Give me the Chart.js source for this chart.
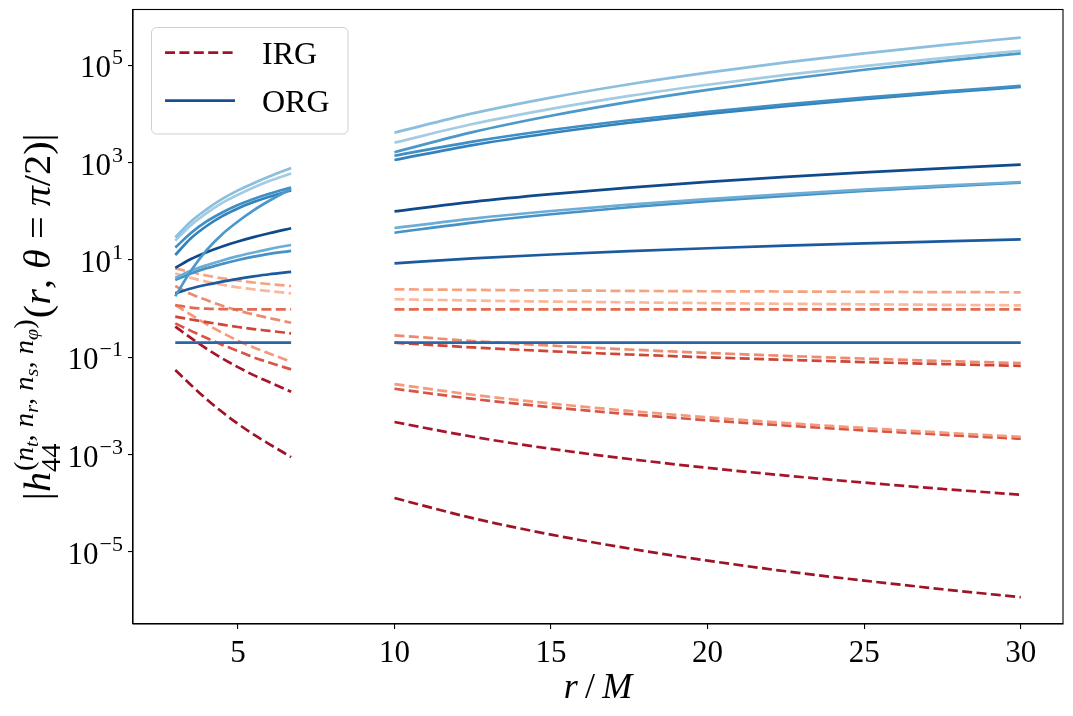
<!DOCTYPE html>
<html>
<head>
<meta charset="utf-8">
<script src="https://cdn.jsdelivr.net/npm/chart.js@4.4.0/dist/chart.umd.min.js"></script>
<style>
  html, body { margin: 0; padding: 0; background: #fff; }
  #wrap { width: 1073px; height: 716px; }
</style>
</head>
<body>
<div id="wrap"><canvas id="chart" width="1073" height="716"></canvas></div>
<script>
// radii of the two sampled regions
const rInner = [3, 3.5, 4, 4.5, 5, 5.5, 6, 6.7];
const rOuter = [10, 12.5, 15, 17.5, 20, 22.5, 25, 27.5, 30];

const xTicks = [5, 10, 15, 20, 25, 30];
const yTicks = [1e-5, 1e-3, 1e-1, 1e1, 1e3, 1e5];
const yTickExp = ['\u22125', '\u22123', '\u22121', '1', '3', '5'];

// ORG (solid) curves, one row per mode
const orgInner = [
  [29, 62, 110, 180, 270, 380, 520, 780],
  [25, 52, 92, 150, 220, 310, 420, 600],
  [1.8, 6, 16, 34, 62, 105, 165, 290],
  [18, 36, 62, 95, 135, 180, 230, 310],
  [12.7, 28, 50, 80, 115, 155, 200, 270],
  [6.9, 10.5, 14.5, 19, 24, 29.5, 35.5, 45],
  [4.3, 6, 7.8, 9.8, 12, 14.3, 16.8, 20.4],
  [3.9, 5.3, 6.8, 8.3, 10, 11.7, 13.4, 15.4],
  [2.07, 2.6, 3.1, 3.6, 4.1, 4.6, 5.1, 5.7],
  [0.2, 0.2, 0.2, 0.2, 0.2, 0.2, 0.2, 0.2]
];
const orgOuter = [
  [4140, 10330, 21800, 41000, 70900, 115000, 177000, 262000, 374000],
  [2580, 6240, 12800, 23700, 40100, 64000, 97000, 141600, 200000],
  [1640, 4250, 9220, 17800, 31400, 51900, 81500, 122000, 177000],
  [1393, 2720, 4700, 7465, 11140, 15870, 21760, 28960, 37800],
  [1137, 2300, 4080, 6630, 10100, 14560, 20300, 27500, 36000],
  [100, 157, 226, 308, 403, 510, 632, 764, 910],
  [45.5, 70.8, 101.6, 138, 179, 226.5, 279, 337, 401],
  [36.4, 58.9, 87.2, 121.5, 162, 209, 262, 322, 388],
  [8.55, 10.76, 12.98, 15.2, 17.45, 19.7, 21.95, 24.2, 26.6],
  [0.2, 0.2, 0.2, 0.2, 0.2, 0.2, 0.2, 0.2, 0.2]
];

// IRG (dashed) curves
const irgInner = [
  [6.75, 5.6, 4.8, 4.2, 3.8, 3.45, 3.2, 2.92],
  [5.3, 4.3, 3.6, 3.1, 2.75, 2.5, 2.3, 2.07],
  [1.19, 1.05, 1.0, 0.98, 0.97, 0.97, 0.97, 0.97],
  [2.92, 2.0, 1.5, 1.15, 0.92, 0.76, 0.64, 0.514],
  [0.684, 0.6, 0.53, 0.47, 0.42, 0.38, 0.35, 0.311],
  [1.19, 0.75, 0.48, 0.32, 0.22, 0.16, 0.12, 0.0813],
  [0.499, 0.35, 0.25, 0.18, 0.135, 0.1, 0.078, 0.0566],
  [0.427, 0.25, 0.15, 0.095, 0.063, 0.043, 0.031, 0.0196],
  [0.0548, 0.027, 0.0138, 0.0075, 0.0043, 0.0026, 0.00165, 0.00089]
];
const irgOuter = [
  [2.5, 2.43, 2.37, 2.32, 2.28, 2.25, 2.22, 2.19, 2.17],
  [1.56, 1.47, 1.40, 1.35, 1.30, 1.26, 1.23, 1.20, 1.17],
  [0.97, 0.97, 0.97, 0.97, 0.97, 0.97, 0.97, 0.97, 0.97],
  [0.283, 0.2165, 0.174, 0.1446, 0.1231, 0.107, 0.0942, 0.084, 0.0758],
  [0.2, 0.16, 0.1333, 0.1143, 0.1, 0.0889, 0.08, 0.0727, 0.0667],
  [0.0282, 0.0170, 0.01124, 0.00791, 0.00585, 0.00447, 0.00352, 0.00283, 0.00233],
  [0.0226, 0.0140, 0.00945, 0.00678, 0.00509, 0.00396, 0.00315, 0.00257, 0.00212],
  [0.00468, 0.00233, 0.001314, 0.000813, 0.000534, 0.000371, 0.000266, 0.000197, 0.000150],
  [1.28e-4, 4.94e-5, 2.27e-5, 1.175e-5, 6.63e-6, 4.0e-6, 2.57e-6, 1.71e-6, 1.17e-6]
];

const orgColors = ['#8bbfdd', '#a3cce3', '#4b98ca', '#3f8fc5', '#3282be',
                   '#0f4a8c', '#6cadd6', '#4691c6', '#1b5a9e', '#2a67aa'];
const irgColors = ['#f6a27f', '#fbb79b', '#e16a50', '#ec8b6f', '#cf4637',
                   '#f39a7b', '#d95446', '#a8142a', '#9e1326'];

const serif = '"Liberation Serif", "DejaVu Serif", serif';
const fnt = (size, italic) => (italic ? 'italic ' : '') + size + 'px ' + serif;

// join both radial ranges into one line with a break between them
function points(inner, outer) {
  const pts = rInner.map((r, k) => ({ x: r, y: inner[k] }));
  pts.push({ x: 8.35, y: null });
  return pts.concat(rOuter.map((r, k) => ({ x: r, y: outer[k] })));
}

const datasets = [];
orgInner.forEach((row, i) => {
  datasets.push({
    label: 'ORG',
    data: points(row, orgOuter[i]),
    borderColor: orgColors[i],
    borderWidth: 2.7,
    pointRadius: 0,
    cubicInterpolationMode: 'monotone'
  });
});
irgInner.forEach((row, i) => {
  datasets.push({
    label: 'IRG',
    data: points(row, irgOuter[i]),
    borderColor: irgColors[i],
    borderWidth: 2.7,
    borderDash: [10, 4.4],
    pointRadius: 0,
    cubicInterpolationMode: 'monotone'
  });
});

const framePlugin = {
  id: 'frame',
  afterDraw(chart) {
    const { ctx, chartArea: a } = chart;
    ctx.save();
    ctx.strokeStyle = '#000';
    ctx.lineWidth = 1.1;
    ctx.strokeRect(a.left, a.top, a.right - a.left, a.bottom - a.top);
    ctx.restore();
  }
};

// tick labels of the log axis with real superscripts
const yTickPlugin = {
  id: 'yTickLabels',
  afterDraw(chart) {
    const ctx = chart.ctx, ys = chart.scales.y;
    ctx.save();
    ctx.fillStyle = '#000';
    ctx.textBaseline = 'alphabetic';
    yTicks.forEach((v, i) => {
      const y = ys.getPixelForValue(v);
      const right = 123;
      ctx.font = fnt(22, false);
      const we = ctx.measureText(yTickExp[i]).width;
      ctx.textAlign = 'right';
      ctx.fillText(yTickExp[i], right, y - 1);
      ctx.font = fnt(31, false);
      ctx.fillText('10', right - we - 1, y + 12);
    });
    ctx.restore();
  }
};

function runWidth(ctx, runs) {
  let w = 0;
  runs.forEach(r => { ctx.font = fnt(r[1], r[2]); w += ctx.measureText(r[0]).width; });
  return w;
}
function drawRun(ctx, runs, x, y) {
  runs.forEach(r => {
    ctx.font = fnt(r[1], r[2]);
    ctx.fillText(r[0], x, y + (r[3] || 0));
    x += ctx.measureText(r[0]).width;
  });
  return x;
}

const axisTitlePlugin = {
  id: 'axisTitles',
  afterDraw(chart) {
    const ctx = chart.ctx, a = chart.chartArea;
    ctx.save();
    ctx.fillStyle = '#000';
    ctx.textAlign = 'left';
    ctx.textBaseline = 'alphabetic';

    // x title
    const xt = [['r', 36, true], ['\u2009/\u2009', 36, false], ['M', 36, true]];
    const xw = runWidth(ctx, xt);
    drawRun(ctx, xt, (a.left + a.right) / 2 - xw / 2, 698);

    // y title, rotated
    const M = 38, S = 27, SS = 19;
    const head = [['|', M, false], ['h', M, true]];
    const sup = [['(', S, false], ['n', S, true], ['t', SS, true, 5], [', ', S, false],
                 ['n', S, true], ['r', SS, true, 5], [', ', S, false],
                 ['n', S, true], ['s', SS, true, 5], [', ', S, false],
                 ['n', S, true], ['\u03c6', SS, true, 5], [')', S, false]];
    const sub = [['44', S, false]];
    const tail = [['(', M, false], ['r', M, true], [', ', M, false], ['\u03b8', M, true],
                  [' = ', M, false], ['\u03c0', M, true], ['/2)|', M, false]];
    const wh = runWidth(ctx, head), ws = Math.max(runWidth(ctx, sup), runWidth(ctx, sub));
    const total = wh + ws + 2 + runWidth(ctx, tail);
    const k = 1.06;
    ctx.translate(50, (a.top + a.bottom) / 2);
    ctx.rotate(-Math.PI / 2);
    ctx.scale(k, 1);
    let x = -total / 2;
    x = drawRun(ctx, head, x, 0);
    drawRun(ctx, sup, x + 1, -17);
    drawRun(ctx, sub, x, 10);
    drawRun(ctx, tail, x + ws + 2, 0);
    ctx.restore();
  }
};

const legendPlugin = {
  id: 'legendBox',
  afterDatasetsDraw(chart) {
    const ctx = chart.ctx;
    ctx.save();
    const x = 151.5, y = 27.5, w = 196.5, h = 106.5, r = 5;
    ctx.beginPath();
    ctx.roundRect(x, y, w, h, r);
    ctx.fillStyle = 'rgba(255,255,255,0.8)';
    ctx.fill();
    ctx.strokeStyle = '#d0d0d0';
    ctx.lineWidth = 1;
    ctx.stroke();

    ctx.lineWidth = 2.7;
    ctx.strokeStyle = '#a11329';
    ctx.setLineDash([10, 4.4]);
    ctx.beginPath(); ctx.moveTo(165, 52.7); ctx.lineTo(235, 52.7); ctx.stroke();
    ctx.strokeStyle = '#18508f';
    ctx.setLineDash([]);
    ctx.beginPath(); ctx.moveTo(165, 100.7); ctx.lineTo(235, 100.7); ctx.stroke();

    ctx.fillStyle = '#000';
    ctx.font = fnt(32, false);
    ctx.textBaseline = 'alphabetic';
    ctx.fillText('IRG', 262, 64);
    ctx.fillText('ORG', 262, 112);
    ctx.restore();
  }
};

new Chart(document.getElementById('chart'), {
  type: 'line',
  data: { datasets: datasets },
  options: {
    responsive: false,
    animation: false,
    devicePixelRatio: 1,
    layout: { padding: { left: 0, right: 10, top: 9.5, bottom: 0 } },
    plugins: { legend: { display: false }, tooltip: { enabled: false } },
    scales: {
      x: {
        type: 'linear',
        min: 1.65,
        max: 31.35,
        afterBuildTicks: s => { s.ticks = xTicks.map(v => ({ value: v })); },
        afterFit: s => { s.height = 92; },
        grid: { display: true, drawOnChartArea: false, drawTicks: true, tickLength: 5, color: '#000', lineWidth: 1.1 },
        border: { display: true, color: '#000', width: 1.1 },
        ticks: { color: '#000', font: { family: serif, size: 31 }, padding: 6, maxRotation: 0, autoSkip: false }
      },
      y: {
        type: 'logarithmic',
        min: 3.3e-7,
        max: 1.41e6,
        afterBuildTicks: s => { s.ticks = yTicks.map(v => ({ value: v })); },
        afterFit: s => { s.width = 133; },
        grid: { display: true, drawOnChartArea: false, drawTicks: true, tickLength: 5, color: '#000', lineWidth: 1.1 },
        border: { display: true, color: '#000', width: 1.1 },
        ticks: { display: false }
      }
    }
  },
  plugins: [framePlugin, yTickPlugin, axisTitlePlugin, legendPlugin]
});
</script>
</body>
</html>
